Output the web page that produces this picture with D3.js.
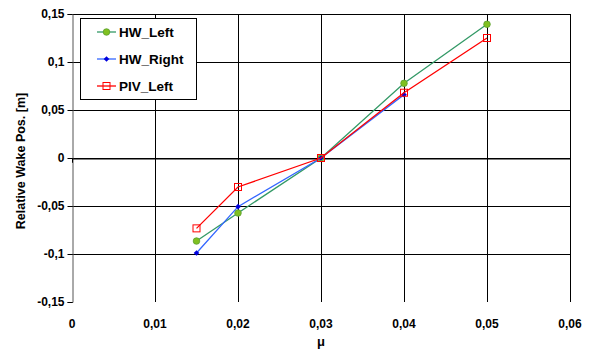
<!DOCTYPE html>
<html>
<head>
<meta charset="utf-8">
<script src="https://cdn.jsdelivr.net/npm/d3@7"></script>
<style>
  html, body { margin: 0; padding: 0; background: #fff; }
  svg { display: block; font-family: "Liberation Sans", Arial, sans-serif; font-weight: bold; }
</style>
</head>
<body>
<svg id="chart" width="593" height="353"></svg>
<script>
// Wake position measurements against mu
const muHWLeft  = [0.015, 0.02, 0.03, 0.04, 0.05];
const hwLeft    = [-0.0865, -0.0573, 0, 0.0778, 0.1393];
const muHWRight = [0.015, 0.02, 0.03, 0.04];
const hwRight   = [-0.099, -0.0507, 0, 0.066];
const muPIVLeft = [0.015, 0.02, 0.03, 0.04, 0.05];
const pivLeft   = [-0.0733, -0.0302, 0, 0.068, 0.125];

const xTicks = [0, 0.01, 0.02, 0.03, 0.04, 0.05, 0.06];
const yTicks = [-0.15, -0.1, -0.05, 0, 0.05, 0.1, 0.15];
const seriesNames = ["HW_Left", "HW_Right", "PIV_Left"];

const fmt = v => (v === 0 ? "0" : String(+v.toFixed(3)).replace(".", ","));

const svg = d3.select("#chart");
const pLeft = 72, pRight = 570, pTop = 14, pBottom = 302;
const x = d3.scaleLinear().domain([0, 0.06]).range([pLeft, pRight]);
const y = d3.scaleLinear().domain([-0.15, 0.15]).range([pBottom, pTop]);

// grid
const grid = svg.append("g").attr("shape-rendering", "crispEdges");
grid.selectAll("line.h").data(yTicks.filter(d => d > -0.15)).join("line")
  .attr("x1", pLeft).attr("x2", pRight)
  .attr("y1", d => Math.round(y(d)) + 0.5).attr("y2", d => Math.round(y(d)) + 0.5)
  .attr("stroke", "#000").attr("stroke-width", 1);
grid.selectAll("line.v").data(xTicks.filter(d => d > 0)).join("line")
  .attr("y1", pTop).attr("y2", pBottom)
  .attr("x1", d => Math.round(x(d)) + 0.5).attr("x2", d => Math.round(x(d)) + 0.5)
  .attr("stroke", "#000").attr("stroke-width", 1);

// y axis
const yAxis = d3.axisLeft(y).tickValues(yTicks).tickSize(5).tickPadding(3).tickFormat(fmt);
const gy = svg.append("g").attr("transform", `translate(${pLeft + 0.5},0)`).call(yAxis);
gy.select(".domain").attr("stroke", "#555");
gy.selectAll(".tick line").attr("stroke", "#000");
gy.selectAll("text").attr("font-size", 12).attr("font-weight", "bold")
  .attr("font-family", "Liberation Sans, Arial, sans-serif").attr("fill", "#000");

// x axis (crosses at y = 0, labels below the plot)
const gx = svg.append("g").attr("transform", `translate(0,${Math.round(y(0)) + 0.5})`)
  .call(d3.axisBottom(x).tickValues(xTicks).tickSize(4).tickFormat(""));
gx.select(".domain").attr("stroke", "#000");
svg.append("g").selectAll("text").data(xTicks).join("text")
  .attr("x", d => x(d)).attr("y", 328)
  .attr("text-anchor", "middle").attr("font-size", 12).text(fmt);

svg.append("text").attr("x", (pLeft + pRight) / 2).attr("y", 346)
  .attr("text-anchor", "middle").attr("font-size", 13).text("μ");
svg.append("text").attr("transform", `translate(25,${(pTop + pBottom) / 2 + 3}) rotate(-90)`)
  .attr("text-anchor", "middle").attr("font-size", 12.5).text("Relative Wake Pos.  [m]");

const line = d3.line().x(d => x(d[0])).y(d => y(d[1]));
const series = [
  { name: seriesNames[0], data: d3.zip(muHWLeft, hwLeft), color: "#339966" },
  { name: seriesNames[1], data: d3.zip(muHWRight, hwRight), color: "#3366ff" },
  { name: seriesNames[2], data: d3.zip(muPIVLeft, pivLeft), color: "#ff0000" }
];

function marker(g, i, cx, cy) {
  if (i === 0) {
    g.append("circle").attr("cx", cx).attr("cy", cy).attr("r", 3.3)
      .attr("fill", "#80c020").attr("stroke", "#5aa030").attr("stroke-width", 0.8);
  } else if (i === 1) {
    g.append("path").attr("d", `M${cx},${cy - 2.8}L${cx + 2.8},${cy}L${cx},${cy + 2.8}L${cx - 2.8},${cy}Z`)
      .attr("fill", "#0000dd");
  } else {
    g.append("rect").attr("x", cx - 3.5).attr("y", cy - 3.5).attr("width", 7).attr("height", 7)
      .attr("fill", "none").attr("stroke", "#ff0000").attr("stroke-width", 1);
  }
}

series.forEach((s, i) => {
  svg.append("path").datum(s.data).attr("d", line)
    .attr("fill", "none").attr("stroke", s.color).attr("stroke-width", 1.3);
  const g = svg.append("g");
  s.data.forEach(d => marker(g, i, x(d[0]), y(d[1])));
});

// legend
const lg = svg.append("g");
lg.append("rect").attr("x", 80.5).attr("y", 18.5).attr("width", 116).attr("height", 81)
  .attr("fill", "#fff").attr("stroke", "#000").attr("stroke-width", 1);
series.forEach((s, i) => {
  const ly = 32 + i * 27;
  lg.append("line").attr("x1", 97).attr("x2", 116).attr("y1", ly).attr("y2", ly)
    .attr("stroke", s.color).attr("stroke-width", 1.3);
  marker(lg, i, 106.5, ly);
  lg.append("text").attr("x", 119).attr("y", ly + 5).attr("font-size", 13.5).text(s.name);
});
</script>
</body>
</html>
